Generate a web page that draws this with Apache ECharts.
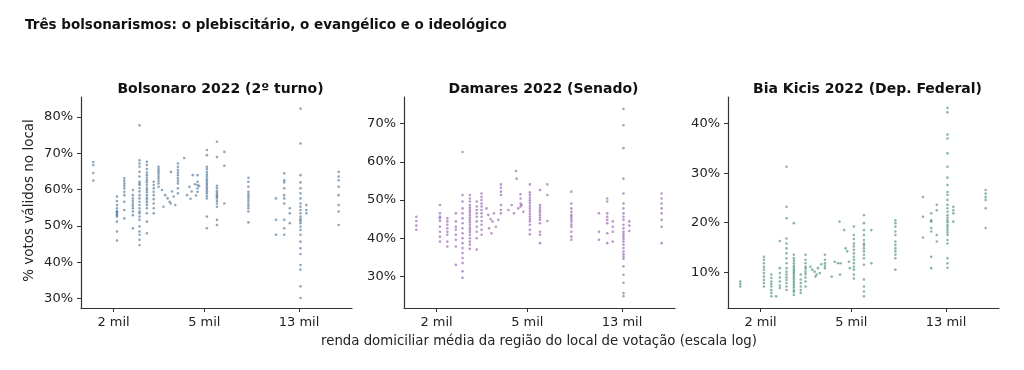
<!DOCTYPE html>
<html><head><meta charset="utf-8">
<script src="https://cdn.jsdelivr.net/npm/echarts@6/dist/echarts.min.js"></script>
<style>html,body{margin:0;padding:0;background:#fff}#c{width:1024px;height:370px}</style>
</head><body><div id="c"></div>
<script>
// Income (R$) of each location cluster (log x axis)
const incomeCols = {A:1630,B:2070,C:2230,D:2430,E:2600,F:2800,G:3000,H:3150,I:3830,J:4670,K:5130,L:5680,M:6120,N:7800,O:10300,P:11200,Q:11850,R:13200,S:14000,T:19400};
const xTicks = [2000, 5000, 13000];
const panelTitles = ["Bolsonaro 2022 (2º turno)", "Damares 2022 (Senado)", "Bia Kicis 2022 (Dep. Federal)"];
const yTicks1 = [30, 40, 50, 60, 70, 80];
const yTicks2 = [30, 40, 50, 60, 70];
const yTicks3 = [10, 20, 30, 40];

const bolsonaroCols = {
  A:[67.6,66.8,64.6,62.5],
  B:[58.1,56.9,55.8,54.9,54.1,53.8,53.4,53.0,52.6,51.2,48.5,46.0],
  C:[63.1,62.4,61.7,61.1,60.4,59.4,58.5,56.7,54.4,52.1],
  D:[59.9,58.5,57.6,56.9,56.2,55.6,54.9,54.0,53.0,49.4],
  E:[77.7,68.1,67.2,66.3,64.9,63.6,62.2,61.7,61.3,60.4,59.5,58.5,57.6,56.7,55.8,54.9,54.0,53.5,52.6,51.7,49.9,48.5,47.6,46.2,44.8],
  F:[67.7,66.8,65.7,64.7,64.0,63.3,62.6,62.0,61.3,60.5,59.9,59.3,58.5,57.8,57.2,56.5,55.8,54.9,53.5,51.2,48.0],
  G:[62.2,61.3,60.4,59.4,58.5,57.4,56.2,54.9,53.5],
  H:[66.3,65.7,65.1,64.5,63.8,63.1,62.4,61.7,60.8],
  I:[67.2,66.3,65.4,64.7,64.0,63.1,62.4,61.7,60.4,59.0],
  J:[64.0,62.2,61.3,60.4,59.4],
  K:[70.9,69.5,66.3,65.7,64.9,64.2,63.6,62.9,62.4,61.8,61.3,60.7,60.2,59.6,59.0,58.3,57.6,52.6,49.4],
  L:[73.2,69.0,61.1,60.4,59.6,59.0,58.5,58.1,57.6,56.9,56.2,55.3,51.7,50.3],
  M:[70.4,66.6,56.2],
  N:[63.3,62.2,60.8,59.4,58.7,58.1,57.5,56.9,56.2,55.6,54.9,54.0,51.0],
  O:[57.6,51.7,47.6],
  P:[64.5,62.6,62.0,60.4,58.5,57.6,56.2,51.7,49.4,47.6],
  Q:[54.9,53.5,50.8],
  R:[82.3,72.7,64.0,62.0,60.4,59.0,57.6,56.2,55.3,54.4,53.5,52.6,51.9,51.4,50.8,49.8,48.9,47.6,45.7,43.9,42.3,39.3,38.0,33.4,30.2],
  S:[55.8,54.4,53.5],
  T:[64.9,63.6,62.6,60.8,58.5,55.8,54.0,50.3]
};
const bolsonaroExtra = [[3260,59.9],[3370,58.5],[3450,57.6],[3520,56.7],[3570,64.9],[3560,56.2],[3610,59.5],[3670,58.1],[3730,55.8],[3310,55.3],[4080,68.7],[4200,58.5],[4300,60.8],[4350,57.5],[4400,59.5],[4450,64.0],[4550,61.5],[4600,58.4],[4750,61.0]];

const damaresCols = {
  A:[45.6,44.5,43.3,42.2],
  B:[48.7,46.5,45.6,45.2,44.5,43.0,41.7,40.4,39.1],
  C:[45.2,44.4,43.5,42.6,41.7,40.9,39.1,37.8],
  D:[46.5,44.4,43.0,42.2,40.9,39.6,37.8,33.0],
  E:[62.6,51.3,49.6,47.8,46.5,45.2,43.9,42.6,41.3,40.0,38.7,37.4,36.1,34.8,33.5,31.3,29.6],
  F:[51.3,50.4,49.6,48.7,48.0,47.4,46.8,46.1,45.4,44.8,44.2,43.5,42.8,42.2,41.6,40.9,40.0,39.1,38.3,37.2],
  G:[49.6,48.3,47.4,46.5,45.6,44.4,43.0,41.7,40.0,37.0],
  H:[51.7,50.8,50.0,49.1,48.3,47.4,46.5,45.6,44.5,43.5,42.2,40.9],
  I:[54.1,53.2,52.2,51.3,48.7,47.4,46.5],
  J:[51.5,50.4,49.1,48.3],
  K:[54.1,52.0,51.3,50.6,49.9,49.2,48.5,47.8,47.1,46.4,45.7,45.0,44.4,43.5,42.2,41.0],
  L:[52.6,48.7,48.0,47.4,46.8,46.1,45.4,44.8,43.9,41.7,40.9,38.7],
  M:[54.1,51.3,44.5],
  N:[52.2,49.1,47.8,46.9,46.1,45.6,45.0,44.4,43.6,43.0,41.7,40.4,39.6],
  O:[46.5,41.7,39.6],
  P:[50.4,49.6,46.5,45.6,44.8,43.9,41.3,38.7],
  Q:[44.4,43.0,41.7,39.1],
  R:[73.9,69.6,63.6,55.6,51.7,49.1,47.8,46.5,45.6,44.8,43.5,42.6,41.7,41.0,40.4,39.8,39.1,38.3,37.4,36.5,35.8,35.2,34.6,32.6,30.4,28.3,25.6,24.8],
  S:[44.4,43.3,41.9],
  T:[51.7,50.4,49.1,47.8,46.5,44.8,43.0,38.7]
};
const damaresExtra = [[3310,47.8],[3370,46.1],[3450,45.0],[3520,44.4],[3570,46.5],[3640,43.0],[3480,41.3],[3400,42.6],[3730,44.8],[4130,47.4],[4270,48.7],[4370,46.5],[4460,57.6],[4490,55.6],[4560,47.8],[4720,48.7],[4800,46.9]];

const kicisCols = {
  A:[8.1,7.6,7.1],
  B:[13.1,12.5,11.8,11.1,10.5,9.8,9.1,8.4,7.8,7.1],
  C:[9.5,8.8,8.1,7.6,7.1,6.4,5.8,5.1],
  D:[16.3,10.8,9.8,8.9,8.1,7.3,6.8],
  E:[31.3,23.2,20.9,16.8,15.8,14.8,13.8,12.8,11.8,10.8,10.1,9.5,8.9,8.4,7.8,7.1,6.4],
  F:[19.9,13.5,12.8,12.3,11.8,11.3,10.9,10.5,10.1,9.7,9.3,8.9,8.5,8.1,7.7,7.3,6.9,6.4,6.0,5.4],
  G:[9.5,8.5,7.8,7.1,6.4,5.8],
  H:[13.5,12.5,11.8,11.1,10.7,10.1,9.6,8.9,8.1,7.1],
  I:[13.5,12.5,11.8,11.3,10.8],
  J:[],
  K:[19.2,17.5,16.7,15.8,15.2,14.5,13.8,13.1,12.5,11.8,11.1,10.5,9.5,8.7],
  L:[21.5,19.9,18.5,17.5,16.5,15.8,15.4,14.8,14.2,13.5,12.8,11.5,8.5,7.1,6.1,5.1],
  M:[18.5,11.8],
  N:[20.5,19.9,19.2,18.2,17.5,16.2,15.5,14.8,14.2,13.5,12.8,10.5],
  O:[25.2,21.2,17.0],
  P:[21.9,20.5,20.2,18.9,18.2,13.1,10.8],
  Q:[23.6,22.5,17.5,16.2],
  R:[43.2,42.3,37.8,37.0,34.0,31.3,29.1,27.6,26.2,25.6,24.6,23.6,22.9,22.2,21.5,21.0,20.5,20.1,19.5,19.0,18.5,18.0,17.5,16.5,15.8,12.8,11.8,10.9],
  S:[23.2,22.5,21.9,20.2],
  T:[26.6,25.9,25.2,24.6,22.9,18.9]
};
const kicisExtra = [[2340,5.1],[3310,11.1],[3370,10.5],[3450,10.1],[3520,9.5],[3570,10.8],[3640,9.8],[3690,11.6],[3480,9.1],[4100,9.1],[4230,12.1],[4370,11.8],[4440,20.2],[4490,11.8],[4460,9.5],[4650,18.5],[4720,14.8],[4800,14.2],[4880,12.1],[4930,10.8]];

function build(cols, extra){
  const out = [];
  for (const k in cols) for (const v of cols[k]) out.push([incomeCols[k], v]);
  return out.concat(extra);
}

const panels = [
  {left:81, data:build(bolsonaroCols,bolsonaroExtra), color:'#1f4f7e', ymin:27.45, ymax:85.5, yt:yTicks1},
  {left:404, data:build(damaresCols,damaresExtra), color:'#73309c', ymin:21.7, ymax:77, yt:yTicks2},
  {left:728, data:build(kicisCols,kicisExtra), color:'#17714a', ymin:2.75, ymax:45.4, yt:yTicks3}
];
const W = 271, TOP = 97, H = 211;
const axisCol = '#333';
const font = 'DejaVu Sans';

const chart = echarts.init(document.getElementById('c'), null, {renderer:'canvas'});
const option = {
  animation:false,
  textStyle:{fontFamily:font},
  title:[{text:'Três bolsonarismos: o plebiscitário, o evangélico e o ideológico', left:20, top:13,
          textStyle:{fontFamily:font, fontSize:13.5, fontWeight:'bold', color:'#111'}}]
    .concat(panels.map((p,i)=>({text:panelTitles[i], left:p.left+W/2-1, top:77, textAlign:'center',
          textStyle:{fontFamily:font, fontSize:14, fontWeight:'bold', color:'#111'}}))),
  grid: panels.map(p=>({left:p.left, top:TOP, width:W, height:H})),
  xAxis: panels.map((p,i)=>({
    type:'log', gridIndex:i, min:1440, max:22200,
    axisLine:{lineStyle:{color:axisCol, width:1.2}},
    axisTick:{show:true, length:4, lineStyle:{color:axisCol}, customValues:xTicks},
    axisLabel:{customValues:xTicks, margin:8, fontSize:13, color:'#222', fontFamily:font,
               formatter:v=>Math.round(v/1000)+' mil'},
    minorTick:{show:false}, splitLine:{show:false}, minorSplitLine:{show:false}
  })),
  yAxis: panels.map((p,i)=>({
    type:'value', gridIndex:i, min:p.ymin, max:p.ymax,
    axisLine:{show:true, lineStyle:{color:axisCol, width:1.2}},
    axisTick:{show:true, length:4, lineStyle:{color:axisCol}, customValues:p.yt},
    axisLabel:{customValues:p.yt, margin:8, fontSize:13, color:'#222', fontFamily:font,
               formatter:v=>Math.round(v)+'%'},
    splitLine:{show:false}
  })),
  series: panels.map((p,i)=>({
    type:'scatter', xAxisIndex:i, yAxisIndex:i, data:p.data, symbolSize:2.6,
    itemStyle:{color:p.color, opacity:0.5}
  })),
  graphic:[
    {type:'text', x:539, y:342, style:{text:'renda domiciliar média da região do local de votação (escala log)', font:'13.3px "DejaVu Sans"', fill:'#222', align:'center', verticalAlign:'middle'}},
    {type:'text', x:29, y:200.5, rotation:Math.PI/2, style:{text:'% votos válidos no local', font:'13.5px "DejaVu Sans"', fill:'#222', align:'center', verticalAlign:'middle'}}
  ]
};
chart.setOption(option);
</script></body></html>
